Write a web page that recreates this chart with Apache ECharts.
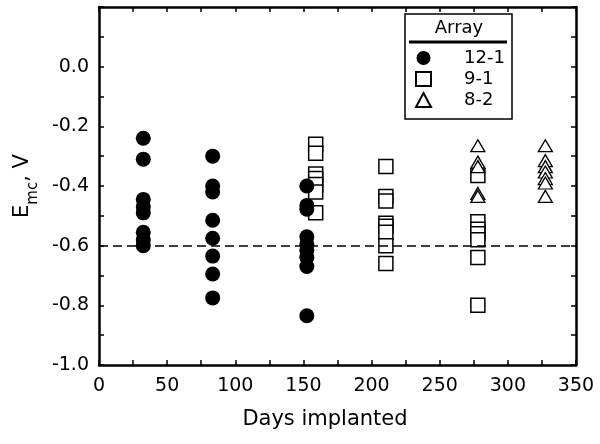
<!DOCTYPE html>
<html><head><meta charset="utf-8">
<script src="https://cdn.jsdelivr.net/npm/echarts@6/dist/echarts.min.js"></script>
<style>html,body{margin:0;padding:0;background:#fff}#c{width:600px;height:444px}</style>
</head><body><div id="c"></div>
<script>
// ---- data ----
const seriesNames = ['12-1', '9-1', '8-2'];
const days121 = [32.5, 32.5, 32.5, 32.5, 32.5, 32.5, 32.5, 32.5,
                 83.4, 83.4, 83.4, 83.4, 83.4, 83.4, 83.4, 83.4,
                 152.5, 152.5, 152.5, 152.5, 152.5, 152.5, 152.5, 152.5, 152.5];
const emc121  = [-0.24, -0.31, -0.445, -0.47, -0.49, -0.555, -0.58, -0.60,
                 -0.30, -0.40, -0.42, -0.515, -0.575, -0.635, -0.695, -0.775,
                 -0.40, -0.465, -0.478, -0.57, -0.595, -0.615, -0.64, -0.67, -0.835];
const days91  = [159, 159, 159, 159, 159, 159, 159,
                 210.5, 210.5, 210.5, 210.5, 210.5, 210.5, 210.5, 210.5,
                 278, 278, 278, 278, 278, 278, 278];
const emc91   = [-0.26, -0.29, -0.36, -0.375, -0.395, -0.42, -0.49,
                 -0.335, -0.435, -0.45, -0.525, -0.535, -0.555, -0.60, -0.66,
                 -0.365, -0.52, -0.545, -0.56, -0.58, -0.64, -0.80];
const days82  = [278, 278, 278, 278, 278,
                 327.5, 327.5, 327.5, 327.5, 327.5, 327.5, 327.5];
const emc82   = [-0.265, -0.32, -0.335, -0.425, -0.435,
                 -0.265, -0.315, -0.335, -0.353, -0.375, -0.39, -0.435];
const referenceLevel = -0.6;
const xTickValues = [0, 50, 100, 150, 200, 250, 300, 350];
const yTickValues = [-1.0, -0.8, -0.6, -0.4, -0.2, 0.0];

// ---- chart ----
const FONT = 'DejaVu Sans';
const pairs = (xs, ys) => xs.map((x, i) => [x, ys[i]]);

const axisLine = { show: true, onZero: false, lineStyle: { color: '#000', width: 2.5 } };
const axisTick = { show: true, inside: true, length: 5, lineStyle: { color: '#000', width: 1.5 } };
const minorTick = { show: true, splitNumber: 2, length: 5, lineStyle: { color: '#000', width: 1.5 } };

const chart = echarts.init(document.getElementById('c'), null, { renderer: 'canvas' });
chart.setOption({
  animation: false,
  backgroundColor: '#fff',
  grid: { left: 99, right: 24, top: 7, bottom: 79 },
  xAxis: [{
    type: 'value', min: xTickValues[0], max: xTickValues[xTickValues.length - 1], interval: 50,
    position: 'bottom',
    axisLine, axisTick, minorTick, splitLine: { show: false },
    axisLabel: { margin: 12, color: '#000', fontFamily: FONT, fontSize: 19,
      formatter: v => xTickValues.includes(v) ? String(v) : '' },
    name: 'Days implanted', nameLocation: 'middle', nameGap: 44,
    nameTextStyle: { color: '#000', fontFamily: FONT, fontSize: 21, padding: [0, 25, 0, 0] }
  }, {
    type: 'value', min: xTickValues[0], max: xTickValues[xTickValues.length - 1], interval: 50,
    position: 'top',
    axisLine, axisTick, minorTick, splitLine: { show: false }, axisLabel: { show: false }
  }],
  yAxis: [{
    type: 'value', min: -1.0, max: 0.2, interval: 0.2, position: 'left',
    axisLine, axisTick, minorTick, splitLine: { show: false },
    axisLabel: { margin: 10, color: '#000', fontFamily: FONT, fontSize: 19,
      formatter: v => (v > 0.1 ? '' : (Math.abs(v) < 1e-9 ? '0.0' : v.toFixed(1))) },
    name: '{e|E}{s|mc}{e|, V}', nameLocation: 'middle', nameGap: 62,
    nameTextStyle: { color: '#000', fontFamily: FONT,
      rich: {
        e: { fontSize: 21, fontFamily: FONT, color: '#000', lineHeight: 24, verticalAlign: 'top' },
        s: { fontSize: 15, fontFamily: FONT, color: '#000', lineHeight: 15, padding: [14, 0, 0, 0], verticalAlign: 'top' }
      } }
  }, {
    type: 'value', min: -1.0, max: 0.2, interval: 0.2, position: 'right',
    axisLine, axisTick, minorTick, splitLine: { show: false }, axisLabel: { show: false }
  }],
  legend: {
    orient: 'vertical', left: 415, top: 49, padding: 0, itemGap: 3,
    itemWidth: 15, itemHeight: 14, z: 10,
    data: seriesNames,
    formatter: n => '{n|' + n + '}',
    textStyle: { color: '#000', fontFamily: FONT, fontSize: 18,
      rich: { n: { fontFamily: FONT, fontSize: 18, color: '#000', lineHeight: 20, padding: [0, 0, 0, 28] } } }
  },
  graphic: [
    { type: 'rect', z: 1, shape: { x: 405, y: 14, width: 107, height: 105 },
      style: { fill: '#fff', stroke: '#000', lineWidth: 1.5 } },
    { type: 'text', z: 2, x: 459, y: 28,
      style: { text: 'Array', fill: '#000', font: '18px "DejaVu Sans"', textAlign: 'center', textVerticalAlign: 'middle' } },
    { type: 'line', z: 2, shape: { x1: 409, y1: 42, x2: 507, y2: 42 },
      style: { stroke: '#000', lineWidth: 3 } }
  ],
  series: [{
    name: seriesNames[0], type: 'scatter', z: 3,
    symbol: 'circle', symbolSize: 15,
    itemStyle: { color: '#000', opacity: 1 },
    data: pairs(days121, emc121),
    markLine: {
      silent: true, symbol: ['none', 'none'], label: { show: false },
      lineStyle: { color: '#000', width: 1.5, type: [9, 5] },
      data: [{ yAxis: referenceLevel }]
    }
  }, {
    name: seriesNames[1], type: 'scatter', z: 2,
    symbol: 'rect', symbolSize: 14,
    itemStyle: { color: '#fff', borderColor: '#000', borderWidth: 1.5, opacity: 1 },
    data: pairs(days91, emc91)
  }, {
    name: seriesNames[2], type: 'scatter', z: 4,
    symbol: 'triangle', symbolSize: [14, 12],
    itemStyle: { color: '#fff', borderColor: '#000', borderWidth: 1.3, opacity: 1 },
    data: pairs(days82, emc82)
  }]
});
</script>
</body></html>
